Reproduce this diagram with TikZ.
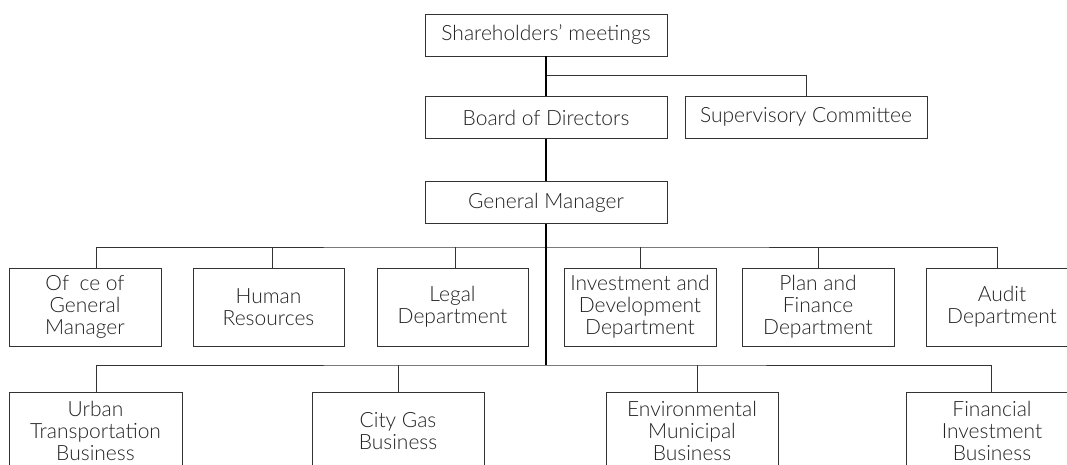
\documentclass[tikz,border=0pt]{standalone}
\usepackage{fontspec}
\setmainfont{Lato Light}

\definecolor{linegray}{HTML}{333333}
\definecolor{textgray}{HTML}{222222}

\tikzset{
  orgbox/.style={draw=linegray, line width=0.9pt, fill=white, align=center, inner sep=0pt,
    text=textgray, font=\fontsize{21}{22}\selectfont},
  toprow/.style={orgbox, minimum width=242pt, minimum height=42pt},
  midrow/.style={orgbox, minimum width=152pt, minimum height=78pt},
  lowrow/.style={orgbox, minimum width=172pt, minimum height=78pt},
  link/.style={draw=linegray, line width=0.9pt},
  spine/.style={draw=black, line width=1.8pt},
}

\begin{document}
\begin{tikzpicture}[x=1pt, y=-1pt]
        \useasboundingbox (0,0) rectangle (1067,465);
        \clip (0,0) rectangle (1067,465);
        \node[toprow] (share) at (546,35) {Shareholders’ meetings};
        \node[toprow] (board) at (546,117.5) {Board of Directors};
        \node[toprow] (super) at (806,117) {Supervisory Committee};
        \node[toprow] (gm) at (546,202.5) {General Manager};
        \coordinate (fork) at (546,75);
        \coordinate (ubus) at (546,247);
        \coordinate (lbus) at (546,365);
        \node[midrow] (office) at (85,307) {Of \hphantom{i}ce of\\General\\Manager};
        \node[midrow, minimum width=151pt] (human) at (268.5,307) {Human\\Resources};
        \node[midrow, minimum width=151pt] (legal) at (452.5,307) {Legal\\Department};
        \node[midrow] (invest) at (640,307) {Investment and\\Development\\Department};
        \node[midrow] (plan) at (818,307) {Plan and\\Finance\\Department};
        \node[midrow] (audit) at (1002,307) {Audit\\Department};
        \node[lowrow, minimum width=173pt] (urban) at (95.5,431) {Urban\\Transportation\\Business};
        \node[lowrow] (gas) at (398,431) {City Gas\\Business};
        \node[lowrow] (env) at (692,431) {Environmental\\Municipal\\Business};
        \node[lowrow] (fin) at (992,431) {Financial\\Investment\\Business};
        \draw[link] (fork) -| (super.north);
        \draw[link] ([xshift=11pt]office.north) |- (ubus) -| ([xshift=-5pt]audit.north);
        \foreach \n/\d in {human/3.5, legal/2.5, invest/0, plan/0}
            \draw[link] ([xshift=\d pt]\n.north) -- ([xshift=\d pt]\n.north |- ubus);
        \draw[link] ([xshift=0.5pt]urban.north) |- (lbus) -| ([xshift=-1pt]fin.north);
        \foreach \n/\d in {gas/0, env/5}
            \draw[link] ([xshift=\d pt]\n.north) -- ([xshift=\d pt]\n.north |- lbus);
        \draw[spine] (share.south) -- (board.north);
        \draw[spine] (board.south) -- (gm.north);
        \draw[spine] (gm.south) -- (lbus);
    \end{tikzpicture}
\end{document}
